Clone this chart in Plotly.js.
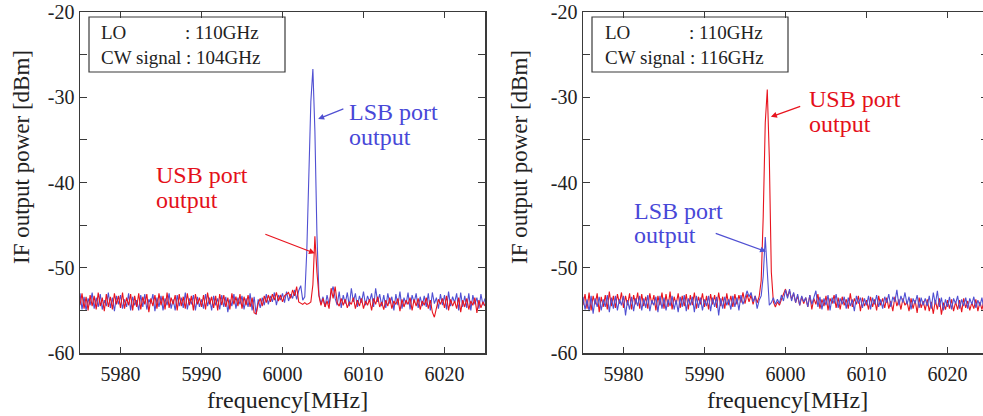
<!DOCTYPE html>
<html>
<head>
<meta charset="utf-8">
<script src="https://cdn.plot.ly/plotly-3.0.1.min.js"></script>
<style>
html,body{margin:0;padding:0;overflow:hidden;background:#fff;}
#chart{width:988px;height:416px;}
</style>
</head>
<body>
<div id="chart"></div>
<script>
// Frequency grid of the spectrum analyser sweeps (MHz)
const freqStart = 5975;
const freqStep = 0.25;

// Left panel: LO 110 GHz, CW signal 104 GHz
const lsbLeft = [
-53.0,-54.9,-53.4,-55.0,-53.6,-54.4,-52.9,-54.8,-53.5,-54.6,
-53.1,-54.9,-53.8,-54.5,-52.9,-54.7,-53.5,-55.1,-53.3,-54.3,
-53.2,-54.8,-53.7,-54.6,-53.0,-55.0,-53.4,-54.4,-53.8,-55.0,
-53.2,-54.6,-53.1,-54.9,-53.7,-54.2,-53.1,-55.1,-53.5,-54.6,
-53.3,-55.0,-53.6,-54.4,-53.0,-54.8,-53.7,-55.0,-53.2,-54.5,
-53.5,-54.7,-52.9,-54.9,-53.6,-54.3,-53.2,-55.0,-53.4,-54.6,
-53.7,-54.8,-53.1,-54.5,-53.5,-55.0,-53.3,-54.4,-53.6,-54.9,
-53.2,-54.6,-53.4,-55.2,-53.7,-54.5,-53.1,-54.8,-53.5,-54.3,
-53.3,-54.9,-53.6,-54.6,-53.0,-55.0,-53.4,-55.5,-53.7,-54.7,
-53.5,-54.4,-53.1,-54.3,-53.3,-54.0,-52.9,-54.4,-53.2,-53.8,
-53.0,-54.1,-52.8,-53.9,-53.1,-53.6,-52.6,-53.7,-52.7,-52.1,
-53.8,-53.4,-48.0,-39.0,-30.5,-26.7,-34.0,-46.0,-53.2,-54.2,
-53.4,-54.6,-53.2,-54.3,-53.0,-52.2,-53.6,-54.4,-52.8,-54.7,
-53.2,-54.2,-52.9,-54.5,-52.4,-54.0,-53.0,-54.6,-53.3,-54.1,
-52.8,-54.4,-53.3,-54.0,-53.0,-54.6,-52.4,-54.0,-53.1,-54.5,
-53.2,-54.7,-53.0,-54.2,-53.4,-55.0,-53.1,-54.4,-52.8,-54.8,
-53.5,-54.3,-52.9,-54.9,-53.2,-54.1,-53.0,-54.7,-53.4,-54.5,
-53.3,-54.6,-53.0,-55.0,-52.9,-54.2,-53.5,-54.8,-53.1,-54.4,
-53.2,-54.9,-52.8,-54.5,-53.4,-54.1,-53.0,-55.0,-52.9,-54.6,
-53.3,-54.7,-53.0,-55.0,-53.2,-54.3,-53.5,-54.8,-53.1,-54.4,
-53.6];
const usbLeft = [
-54.4,-53.0,-54.8,-53.4,-55.0,-53.2,-54.5,-53.3,-54.9,-52.9,
-54.5,-53.5,-55.1,-53.1,-54.6,-53.4,-54.9,-53.0,-54.3,-53.3,
-54.7,-52.9,-54.8,-53.5,-54.4,-53.1,-55.0,-53.3,-54.6,-53.0,
-54.9,-53.4,-54.3,-53.1,-55.2,-53.6,-54.5,-53.2,-54.8,-53.0,
-54.4,-53.3,-54.9,-52.9,-54.7,-53.5,-54.3,-53.2,-55.0,-53.1,
-54.5,-53.4,-54.8,-53.0,-54.4,-53.3,-55.0,-53.1,-54.3,-53.5,
-54.6,-53.2,-54.9,-52.9,-54.3,-53.4,-54.7,-53.3,-55.0,-53.1,
-54.4,-53.2,-54.6,-53.5,-54.9,-53.0,-54.3,-53.4,-54.5,-53.1,
-54.8,-53.4,-54.4,-53.2,-54.6,-53.5,-55.3,-55.4,-54.2,-53.6,
-54.5,-53.3,-54.1,-53.2,-54.0,-53.1,-53.8,-52.9,-53.9,-53.2,
-54.0,-53.3,-53.1,-52.9,-53.6,-52.6,-53.3,-52.2,-54.0,-54.2,
-54.3,-54.1,-54.3,-54.2,-54.0,-52.0,-46.3,-50.5,-53.3,-54.4,
-53.6,-54.6,-53.9,-54.8,-52.4,-53.6,-52.2,-54.1,-54.5,-53.6,
-54.4,-53.7,-54.7,-54.0,-54.3,-53.5,-54.8,-53.8,-54.5,-53.6,
-54.8,-53.9,-54.4,-53.7,-55.0,-53.6,-54.3,-53.4,-54.6,-54.0,
-54.9,-53.8,-54.5,-53.5,-54.8,-53.9,-54.3,-53.6,-55.1,-53.7,
-54.6,-53.8,-54.3,-53.5,-55.0,-53.7,-54.5,-53.6,-54.9,-53.9,
-54.4,-53.5,-54.8,-53.8,-55.2,-55.8,-54.6,-53.7,-54.3,-53.6,
-54.7,-53.3,-55.0,-53.7,-54.5,-53.9,-54.8,-53.5,-55.2,-53.8,
-54.6,-53.6,-54.9,-53.9,-54.4,-53.5,-55.3,-53.8,-54.7,-54.0,
-54.5];

// Right panel: LO 110 GHz, CW signal 116 GHz
const lsbRight = [
-53.4,-54.9,-53.7,-55.1,-53.3,-55.4,-53.6,-54.6,-53.4,-55.0,
-53.7,-54.6,-53.2,-55.2,-53.5,-54.8,-53.3,-55.0,-53.7,-54.4,
-53.3,-55.6,-53.8,-54.9,-53.4,-55.1,-53.6,-54.5,-53.3,-55.0,
-53.6,-54.7,-53.2,-55.1,-53.8,-54.4,-53.4,-55.2,-53.3,-54.8,
-53.5,-55.0,-53.7,-54.5,-53.3,-54.9,-53.8,-55.2,-53.4,-54.6,
-53.2,-55.1,-53.6,-54.4,-53.4,-55.2,-53.3,-54.7,-53.5,-55.0,
-53.7,-54.5,-53.3,-55.1,-53.5,-54.6,-53.4,-55.6,-53.6,-54.8,
-53.4,-54.4,-53.7,-54.9,-53.3,-54.6,-53.5,-55.0,-53.2,-54.3,
-53.6,-52.7,-53.4,-52.9,-54.0,-53.3,-54.8,-53.8,-53.3,-51.0,
-46.4,-50.5,-54.4,-54.1,-53.5,-54.3,-53.7,-54.2,-53.2,-53.9,
-52.6,-53.6,-52.5,-53.9,-52.9,-54.1,-53.1,-54.4,-53.3,-54.0,
-53.5,-54.6,-53.2,-54.3,-53.6,-52.7,-54.6,-53.4,-54.9,-53.6,
-54.4,-53.2,-55.0,-53.5,-54.2,-53.1,-54.7,-53.6,-54.3,-53.4,
-54.8,-53.5,-54.5,-53.7,-55.1,-53.3,-54.2,-53.5,-54.7,-53.6,
-54.4,-53.3,-54.9,-53.5,-54.3,-53.2,-54.6,-53.7,-54.8,-53.4,
-54.1,-53.1,-54.6,-53.4,-54.0,-52.6,-54.4,-53.3,-54.1,-52.9,
-54.3,-53.4,-54.9,-53.6,-54.2,-53.2,-54.7,-53.5,-54.4,-53.6,
-54.5,-53.3,-54.8,-52.9,-54.3,-52.7,-54.6,-53.5,-55.0,-53.7,
-54.6,-53.4,-54.9,-53.6,-54.2,-53.3,-54.8,-53.7,-54.5,-53.5,
-54.8,-53.6,-54.3,-53.4,-54.7,-53.8,-54.5,-53.5,-54.9,-53.9,
-54.5];
const usbRight = [
-54.4,-53.1,-54.8,-52.9,-55.0,-53.3,-54.3,-53.0,-55.2,-53.4,
-54.6,-53.2,-54.9,-52.8,-54.5,-53.3,-54.7,-53.1,-54.2,-52.9,
-54.7,-53.3,-54.4,-53.0,-54.9,-53.2,-54.3,-52.9,-54.8,-53.1,
-54.5,-53.4,-54.8,-53.0,-54.3,-53.2,-55.0,-53.3,-54.4,-52.9,
-54.8,-53.1,-54.6,-52.8,-54.9,-53.4,-54.3,-53.0,-54.7,-53.3,
-54.5,-53.1,-54.9,-53.2,-54.4,-52.9,-54.8,-53.4,-54.3,-53.0,
-54.6,-53.3,-54.9,-53.1,-54.3,-53.2,-54.7,-52.9,-54.5,-53.4,
-54.8,-53.0,-54.4,-53.3,-54.6,-53.1,-54.3,-53.2,-54.1,-52.9,
-54.2,-53.1,-54.0,-53.2,-54.3,-53.3,-54.1,-53.4,-51.5,-44.0,
-33.0,-29.1,-37.0,-50.5,-54.0,-54.6,-54.0,-54.4,-53.7,-53.2,
-52.5,-53.4,-52.7,-53.7,-53.0,-54.1,-53.3,-54.4,-53.4,-54.2,
-53.5,-54.6,-53.2,-54.9,-53.6,-54.3,-53.1,-54.8,-53.7,-54.5,
-53.3,-55.0,-53.6,-54.2,-53.2,-54.7,-53.5,-54.9,-53.4,-54.4,
-53.7,-54.8,-53.0,-54.6,-53.6,-54.3,-53.3,-55.1,-53.5,-54.5,
-53.8,-54.9,-53.4,-54.6,-53.7,-55.0,-53.3,-54.4,-53.6,-54.7,
-53.5,-54.8,-53.9,-55.1,-53.4,-54.5,-53.7,-54.9,-53.6,-54.4,
-54.0,-55.1,-53.6,-54.8,-53.8,-55.3,-53.5,-54.7,-53.9,-55.0,
-53.7,-55.1,-54.0,-55.4,-53.8,-54.9,-53.6,-55.5,-54.1,-54.9,
-53.8,-54.8,-53.7,-55.1,-54.0,-54.9,-53.8,-55.2,-53.6,-54.7,
-53.9,-55.0,-54.1,-54.8,-53.7,-55.1,-54.0,-54.9,-53.8,-54.6,
-54.3];

// Axis ticks
const xTickVals = [5980, 5990, 6000, 6010, 6020];
const yTickVals = [-60, -50, -40, -30, -20];
const yTickText = ['-60', '-50', '-40', '-30', '-20'];

// Texts
const loText = 'LO';
const loValue = ': 110GHz';
const cwText = 'CW signal';
const cwLeftValue = ': 104GHz';
const cwRightValue = ': 116GHz';
const xTitle = 'frequency[MHz]';
const yTitle = 'IF output power [dBm]';

const BLUE = '#5050d2';
const RED = '#e8141e';
const BLUE_TXT = '#4848d8';
const RED_TXT = '#e4101a';
const FONT = '"Liberation Serif", "Times New Roman", serif';
const AX = '#3a3a3a';

// layout helpers (pixel -> paper)
const W = 988, H = 416, ML = 80, MR = 0, MT = 12, MB = 63;
const PW = W - ML - MR, PH = H - MT - MB;
const PX = p => (p - ML) / PW;
const PY = p => (H - MB - p) / PH;

const traces = [
  {x0: freqStart, dx: freqStep, y: lsbLeft, type: 'scatter', mode: 'lines', line: {color: BLUE, width: 1.1}, xaxis: 'x', yaxis: 'y', hoverinfo: 'skip'},
  {x0: freqStart, dx: freqStep, y: usbLeft, type: 'scatter', mode: 'lines', line: {color: RED, width: 1.1}, xaxis: 'x', yaxis: 'y', hoverinfo: 'skip'},
  {x0: freqStart, dx: freqStep, y: usbRight, type: 'scatter', mode: 'lines', line: {color: RED, width: 1.1}, xaxis: 'x2', yaxis: 'y2', hoverinfo: 'skip'},
  {x0: freqStart, dx: freqStep, y: lsbRight, type: 'scatter', mode: 'lines', line: {color: BLUE, width: 1.1}, xaxis: 'x2', yaxis: 'y2', hoverinfo: 'skip'}
];

function xax(domain, anchor) {
  return {
    domain: domain, anchor: anchor, range: [5975, 6025],
    tickmode: 'array', tickvals: xTickVals,
    ticks: 'inside', ticklen: 6, tickwidth: 1, tickcolor: AX,
    ticklabelstandoff: 2,
    showline: true, linecolor: AX, linewidth: 1.5, mirror: 'ticks',
    showgrid: false, zeroline: false,
    tickfont: {family: FONT, size: 20, color: '#222'}
  };
}
function yax(anchor) {
  return {
    anchor: anchor, range: [-60, -20],
    tickmode: 'array', tickvals: yTickVals, ticktext: yTickText,
    ticks: 'inside', ticklen: 7, tickwidth: 1, tickcolor: AX,
    minor: {tickmode: 'linear', tick0: -25, dtick: 10, ticks: 'inside', ticklen: 7, tickwidth: 1, tickcolor: AX, showgrid: false},
    showline: true, linecolor: AX, linewidth: 1.5, mirror: 'ticks',
    showgrid: false, zeroline: false,
    tickfont: {family: FONT, size: 20, color: '#222'}
  };
}

function txt(text, px, py, color, size, extra) {
  return Object.assign({
    text: text, xref: 'paper', yref: 'paper', x: PX(px), y: PY(py),
    xanchor: 'left', yanchor: 'middle', showarrow: false,
    font: {family: FONT, size: size, color: color}
  }, extra || {});
}
function arrow(xr, yr, hx, hy, tx, ty, color) {
  return {
    text: '', xref: xr, yref: yr, x: hx, y: hy, axref: xr, ayref: yr, ax: tx, ay: ty,
    showarrow: true, arrowhead: 2, arrowsize: 1, arrowwidth: 1.2, arrowcolor: color
  };
}

const annotations = [
  // info boxes
  txt(loText, 99, 33, '#222', 19), txt(loValue, 183, 33, '#222', 19),
  txt(cwText, 99, 57, '#222', 19), txt(cwLeftValue, 184, 57, '#222', 19),
  txt(loText, 603, 33, '#222', 19), txt(loValue, 687, 33, '#222', 19),
  txt(cwText, 603, 57, '#222', 19), txt(cwRightValue, 688, 57, '#222', 19),
  // labels left
  txt('LSB port', 347, 112, BLUE_TXT, 24), txt('output', 347, 137, BLUE_TXT, 24),
  txt('USB port', 154, 175, RED_TXT, 24), txt('output', 154, 200, RED_TXT, 24),
  // labels right
  txt('USB port', 807, 99, RED_TXT, 24), txt('output', 807, 124, RED_TXT, 24),
  txt('LSB port', 632, 211, BLUE_TXT, 24), txt('output', 632, 235, BLUE_TXT, 24),
  // arrows
  arrow('x', 'y', 6004.4, -32.55, 6007.7, -31.3, BLUE),
  arrow('x', 'y', 6004.0, -48.3, 5997.7, -46.0, RED),
  arrow('x2', 'y2', 5998.2, -32.3, 6002.0, -31.0, RED),
  arrow('x2', 'y2', 5997.6, -48.1, 5991.2, -45.9, BLUE),
  // axis titles
  txt(xTitle, 287, 415, '#222', 24, {xanchor: 'center', yanchor: 'bottom'}),
  txt(xTitle, 787, 415, '#222', 24, {xanchor: 'center', yanchor: 'bottom'}),
  txt(yTitle, 22, 157, '#222', 23, {xanchor: 'center', textangle: -90}),
  txt(yTitle, 520, 157, '#222', 23, {xanchor: 'center', textangle: -90})
];

const shapes = [
  {type: 'rect', xref: 'paper', yref: 'paper', x0: PX(89), x1: PX(285), y0: PY(17), y1: PY(72), line: {color: AX, width: 1.2}, fillcolor: 'rgba(255,255,255,0)'},
  {type: 'rect', xref: 'paper', yref: 'paper', x0: PX(592), x1: PX(788), y0: PY(17), y1: PY(72), line: {color: AX, width: 1.2}, fillcolor: 'rgba(255,255,255,0)'}
];

const layout = {
  width: W, height: H,
  margin: {l: ML, r: MR, t: MT, b: MB, pad: 0},
  paper_bgcolor: '#fff', plot_bgcolor: '#fff',
  showlegend: false,
  font: {family: FONT, color: '#222'},
  xaxis: xax([0, 405 / PW], 'y'),
  yaxis: yax('x'),
  xaxis2: xax([503 / PW, 1], 'y2'),
  yaxis2: yax('x2'),
  annotations: annotations,
  shapes: shapes
};

Plotly.newPlot('chart', traces, layout, {staticPlot: true, displayModeBar: false});
</script>
</body>
</html>
